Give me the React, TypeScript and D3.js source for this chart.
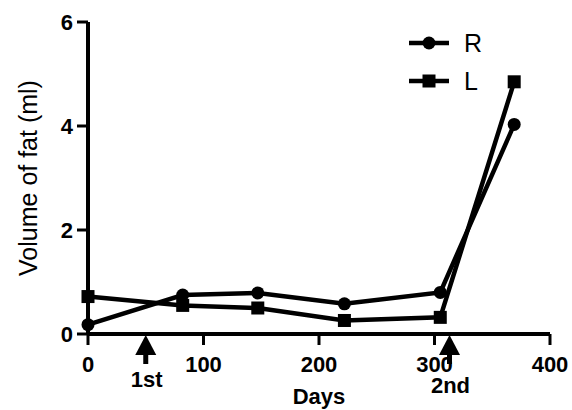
import * as d3 from "d3";
import React from "react";

// days and fat volume (ml)
const daysR = [0, 82, 147, 222, 305, 369];
const volR = [0.18, 0.75, 0.79, 0.58, 0.8, 4.03];
const daysL = [0, 82, 147, 222, 305, 369];
const volL = [0.72, 0.55, 0.5, 0.26, 0.32, 4.85];
const xTicks = [0, 100, 200, 300, 400];
const yTicks = [0, 2, 4, 6];
const injections = [{ day: 50, label: "1st" }, { day: 313, label: "2nd" }];

const width = 572;
const height = 410;
const margin = { top: 22, right: 22, bottom: 76, left: 88 };
const font = "'Liberation Sans', Arial, sans-serif";

const xScale = d3.scaleLinear().domain([0, 400]).range([margin.left, width - margin.right]);
const yScale = d3.scaleLinear().domain([0, 6]).range([height - margin.bottom, margin.top]);

export default function App() {
  const line = d3.line<[number, number]>()
    .x((d) => xScale(d[0]))
    .y((d) => yScale(d[1]));
  const ptsR: [number, number][] = daysR.map((d, i) => [d, volR[i]]);
  const ptsL: [number, number][] = daysL.map((d, i) => [d, volL[i]]);
  const y0 = yScale(0);
  const x0 = xScale(0);

  return (
    <svg width={width} height={height} style={{ position: "absolute", left: 0, top: 0 }}
      fontFamily={font}>
      <rect width={width} height={height} fill="#fff" />
      {/* axes */}
      <g stroke="#000" strokeWidth={4} fill="none">
        <line x1={x0} y1={yScale(6)} x2={x0} y2={y0} />
        <line x1={x0} y1={y0} x2={xScale(400)} y2={y0} />
        {yTicks.map((t) => (
          <line key={t} x1={x0 - 11} x2={x0} y1={yScale(t)} y2={yScale(t)} strokeWidth={3} />
        ))}
        {xTicks.map((t) => (
          <line key={t} x1={xScale(t)} x2={xScale(t)} y1={y0} y2={y0 + 11} strokeWidth={3} />
        ))}
      </g>
      {yTicks.map((t) => (
        <text key={t} x={x0 - 15} y={yScale(t)} dy="0.36em" textAnchor="end" fontSize={22}
          fontWeight="bold">{t}</text>
      ))}
      {xTicks.map((t) => (
        <text key={t} x={xScale(t)} y={y0 + 38} textAnchor="middle" fontSize={22}
          fontWeight="bold">{t}</text>
      ))}
      <text x={xScale(200)} y={404} textAnchor="middle" fontSize={22}
        fontWeight="bold">Days</text>
      <text transform={`translate(37,${(yScale(0) + yScale(6)) / 2}) rotate(-90)`}
        textAnchor="middle" fontSize={25}>Volume of fat (ml)</text>

      {/* series */}
      <path d={line(ptsR) ?? ""} fill="none" stroke="#000" strokeWidth={4.5} />
      <path d={line(ptsL) ?? ""} fill="none" stroke="#000" strokeWidth={4.5} />
      {ptsR.map((p, i) => (
        <circle key={i} cx={xScale(p[0])} cy={yScale(p[1])} r={6.5} fill="#000" />
      ))}
      {ptsL.map((p, i) => (
        <rect key={i} x={xScale(p[0]) - 6.5} y={yScale(p[1]) - 6.5} width={13} height={13} fill="#000" />
      ))}

      {/* injection arrows */}
      {injections.map((inj) => {
        const x = xScale(inj.day);
        return (
          <g key={inj.label}>
            <path d={`M${x},${y0 + 1} L${x - 10.5},${y0 + 21} L${x + 10.5},${y0 + 21} Z`} fill="#000" />
            <line x1={x} x2={x} y1={y0 + 18} y2={y0 + 30} stroke="#000" strokeWidth={5} />
            <text x={x + 1} y={inj.label === "1st" ? y0 + 53 : y0 + 59} textAnchor="middle" fontSize={22}
              fontWeight="bold">{inj.label}</text>
          </g>
        );
      })}

      {/* legend */}
      <g>
        <line x1={409} x2={449} y1={43} y2={43} stroke="#000" strokeWidth={4.5} />
        <circle cx={429} cy={43} r={6.5} fill="#000" />
        <text x={464} y={43} dy="0.36em" fontSize={25}>R</text>
        <line x1={409} x2={449} y1={81} y2={81} stroke="#000" strokeWidth={4.5} />
        <rect x={422.5} y={74.5} width={13} height={13} fill="#000" />
        <text x={464} y={81} dy="0.36em" fontSize={25}>L</text>
      </g>
    </svg>
  );
}
